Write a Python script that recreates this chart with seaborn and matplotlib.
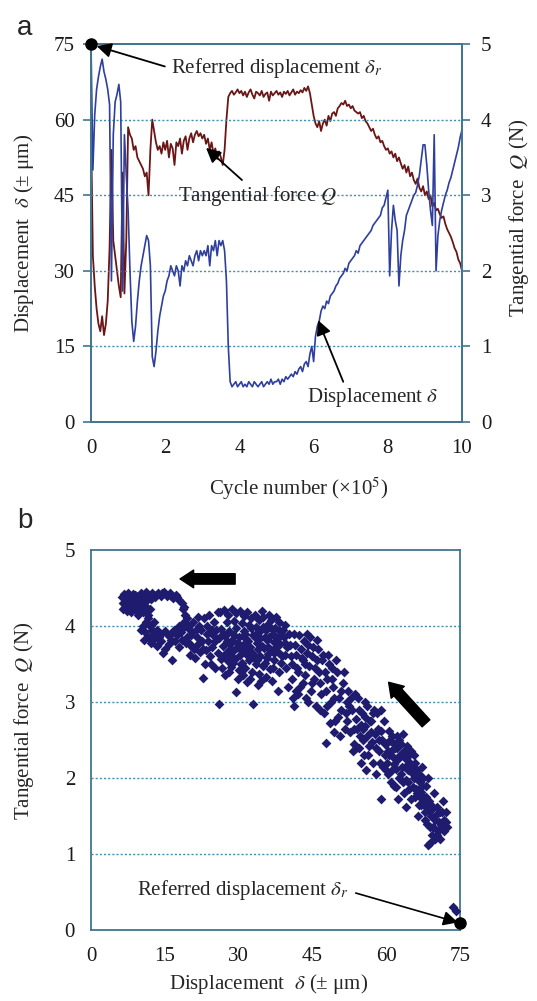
import numpy as np
import pandas as pd
import matplotlib.pyplot as plt
import seaborn as sns

# ---- panel a : time series, sampled every 0.05 x 10^5 cycles ----
cycle = np.round(np.arange(0, 10.001, 0.05), 2)

displacement = [
    75, 50, 61, 66, 68.5, 70.5, 72, 69.5, 68, 66, 63, 28, 57, 63.5, 65, 67, 63.5, 26, 57, 49,
    42, 30, 20, 16, 19, 24, 28, 31, 33, 35, 37, 36, 31, 13, 11, 14, 18, 21, 23, 25,
    26, 28, 29, 31, 30, 29, 31, 30, 27, 31, 30, 32, 31, 33, 32, 31, 33, 34, 32, 34,
    33, 34, 33, 35, 31, 35, 34, 36, 33, 36, 35, 36, 34, 28, 15, 8, 7, 7.5, 8, 7,
    7.5, 8, 7, 7.5, 7, 8, 7.5, 7, 8, 7.5, 7, 7.5, 8, 7, 7.5, 8, 7.5, 8.5, 7.5, 8,
    8, 8.5, 7.5, 8.5, 8, 9, 8.5, 9, 9.5, 9, 10, 9.5, 10.5, 11, 10, 11.5, 12, 11, 13.5, 15,
    12, 17, 19, 20, 22, 23, 22.5, 24, 23.5, 25, 25.5, 26, 27, 27.5, 28.5, 29, 29.5, 30.5, 30, 31.5,
    32, 32.5, 33, 34, 33.5, 35, 35.5, 36, 36.5, 37, 37.5, 38, 39, 39.5, 40, 40.5, 41, 42.5, 43, 44.5,
    46, 29, 38, 43, 40, 38, 27, 33, 36, 38, 41, 42, 43, 44, 45, 45.5, 47, 49, 52, 55,
    55, 51, 46, 42, 39, 57, 30, 37, 40, 42, 43.5, 45, 46, 47.5, 48.5, 50, 51.5, 53, 54.5, 56.5,
    58]

tangential_force = [
    3.9, 2.2, 1.8, 1.5, 1.3, 1.2, 1.4, 1.15, 1.3, 1.6, 2.3, 3.6, 2.4, 2.2, 2.0, 1.8, 1.65, 3.3, 1.7, 2.4,
    3.9, 3.8, 3.75, 3.6, 3.65, 3.5, 3.45, 3.4, 3.35, 3.25, 3.3, 3.0, 3.6, 4.0, 3.85, 3.7, 3.6, 3.65, 3.55, 3.7,
    3.6, 3.72, 3.5, 3.68, 3.62, 3.4, 3.7, 3.65, 3.75, 3.55, 3.72, 3.78, 3.6, 3.75, 3.82, 3.7, 3.8, 3.85, 3.78, 3.82,
    3.75, 3.8, 3.68, 3.75, 3.6, 3.7, 3.55, 3.62, 3.48, 3.58, 3.5, 3.4, 3.6, 4.0, 4.3, 4.35, 4.38, 4.33, 4.36, 4.4,
    4.35, 4.38, 4.32, 4.37, 4.3, 4.36, 4.4, 4.33, 4.28, 4.37, 4.35, 4.32, 4.38, 4.3, 4.34, 4.36, 4.25, 4.37, 4.32, 4.35,
    4.38, 4.33, 4.36, 4.3, 4.37, 4.34, 4.38, 4.32, 4.36, 4.4, 4.33, 4.37, 4.35, 4.39, 4.36, 4.42, 4.38, 4.44, 4.35, 4.2,
    4.05, 3.95, 3.9, 3.98, 3.85, 3.95, 4.0, 3.92, 4.05, 3.98, 4.08, 4.1, 4.05, 4.15, 4.18, 4.22, 4.2, 4.25, 4.18, 4.2,
    4.15, 4.18, 4.12, 4.1, 4.08, 4.1, 4.02, 4.05, 3.98, 3.95, 3.9, 3.85, 3.88, 3.8, 3.75, 3.78, 3.7, 3.72, 3.65, 3.6,
    3.62, 3.55, 3.58, 3.5, 3.55, 3.45, 3.5, 3.42, 3.35, 3.4, 3.3, 3.38, 3.25, 3.3, 3.2, 3.15, 3.22, 3.1, 3.05, 3.12,
    3.0, 3.05, 2.95, 3.0, 2.85, 2.9, 2.8, 2.82, 2.75, 2.7, 2.72, 2.62, 2.55, 2.5, 2.45, 2.38, 2.3, 2.25, 2.15, 2.1,
    2.0]

# ---- panel b : (delta, Q) point clouds ----
cloud_top_left = [
    (6.3, 4.38), (6.5, 4.30), (6.8, 4.42), (7.0, 4.25), (7.2, 4.35), (7.4, 4.20), (7.6, 4.44), (7.8, 4.30),
    (8.0, 4.38), (8.2, 4.18), (8.4, 4.27), (8.6, 4.42), (8.8, 4.33), (9.0, 4.22), (9.2, 4.40), (9.4, 4.29),
    (9.6, 4.15), (9.8, 4.36), (10.0, 4.25), (10.2, 4.43), (10.4, 4.31), (10.6, 4.19), (10.8, 4.38), (11.0, 4.27),
    (11.2, 4.45), (11.4, 4.34), (6.6, 4.22), (7.1, 4.33), (7.7, 4.26), (8.3, 4.35), (8.9, 4.41), (9.5, 4.37),
    (10.1, 4.33), (10.7, 4.28), (11.3, 4.21), (7.3, 4.40), (8.1, 4.22), (9.1, 4.30), (9.9, 4.19), (8.7, 4.24),
    (6.9, 4.35), (7.5, 4.30), (8.5, 4.32), (9.3, 4.25), (10.3, 4.38), (10.9, 4.22)]

cloud_loop = [
    (11.8, 4.40), (12.4, 4.43), (13.0, 4.38), (13.6, 4.44), (14.2, 4.40), (14.8, 4.45), (15.4, 4.39),
    (16.0, 4.43), (16.6, 4.37), (17.2, 4.41), (17.8, 4.34), (18.4, 4.30), (19.0, 4.25),
    (19.2, 4.15), (19.0, 4.05), (18.8, 3.97), (19.6, 4.10), (20.0, 4.00),
    (18.2, 3.92), (17.4, 3.88), (16.6, 3.92), (15.8, 3.87), (15.0, 3.93), (14.2, 3.89), (13.4, 3.95), (12.6, 3.90),
    (11.6, 4.10), (11.9, 4.00), (12.0, 4.22), (11.5, 4.15),
    (10.5, 4.00), (11.0, 3.92), (10.8, 3.82), (11.5, 3.86), (12.2, 3.78), (12.8, 3.83), (13.5, 3.74),
    (14.2, 3.80), (15.0, 3.70), (10.2, 3.95), (16.4, 3.55), (15.8, 3.76), (17.0, 3.80), (17.8, 3.72),
    (12.2, 4.35), (13.3, 4.41), (14.5, 4.43), (16.3, 4.40), (17.5, 4.38), (18.6, 4.22), (17.9, 4.00),
    (16.9, 3.95), (13.9, 3.86), (12.9, 4.05), (12.3, 3.95), (11.2, 4.05), (18.4, 3.82), (16.2, 3.82),
    (14.6, 3.65)]

cloud_mid_left = [
    (19.5, 3.85), (20.0, 3.78), (20.5, 3.92), (21.0, 3.70), (21.5, 3.85), (22.0, 4.00), (22.5, 3.80),
    (23.0, 4.10), (23.5, 3.90), (24.0, 4.15), (24.5, 3.72), (25.0, 4.05), (25.5, 3.95), (20.2, 3.62),
    (21.2, 3.58), (22.2, 3.66), (23.2, 3.50), (24.2, 3.60), (25.2, 3.45), (22.8, 3.32), (20.8, 4.05),
    (21.8, 4.12), (23.8, 3.80), (24.8, 3.88), (25.8, 4.18), (19.8, 3.98), (22.4, 3.95), (23.4, 3.68),
    (20.3, 3.88), (21.3, 3.95), (22.7, 3.70), (23.6, 4.00), (24.6, 3.95), (21.6, 3.75), (24.3, 3.50),
    (20.6, 3.72), (19.3, 3.78)]

cloud_core = [
    (26.2, 4.18), (27.0, 4.21), (27.8, 4.15), (28.6, 4.22), (29.4, 4.17), (30.2, 4.20), (31.0, 4.13),
    (31.8, 4.19), (32.6, 4.10), (33.4, 4.15), (34.2, 4.08), (35.0, 4.12), (35.8, 4.02), (36.6, 4.08),
    (37.4, 3.98), (38.2, 4.05), (39.0, 3.95),
    (26.5, 3.96), (28.0, 3.93), (29.5, 3.98), (31.0, 3.94), (32.5, 3.97), (34.0, 3.92), (35.5, 3.95),
    (37.0, 3.90), (38.5, 3.88),
    (26.0, 3.84), (27.3, 3.87), (28.7, 3.82), (30.1, 3.86), (31.5, 3.83), (32.9, 3.88), (34.3, 3.84),
    (35.7, 3.81), (37.1, 3.79), (38.5, 3.76), (39.8, 3.72),
    (26.8, 3.74), (28.2, 3.77), (29.6, 3.72), (31.0, 3.76), (32.4, 3.73), (33.8, 3.78), (35.2, 3.71),
    (36.6, 3.69), (38.0, 3.66), (39.4, 3.62),
    (27.4, 3.64), (28.8, 3.67), (30.2, 3.62), (31.6, 3.66), (33.0, 3.63), (34.4, 3.61), (35.8, 3.58),
    (37.2, 3.55), (38.6, 3.52),
    (26.4, 3.56), (27.9, 3.54), (29.3, 3.57), (30.7, 3.52), (32.1, 3.55), (33.5, 3.50), (34.9, 3.47), (36.3, 3.44),
    (28.5, 3.46), (30.0, 3.42), (31.4, 3.45), (32.8, 3.40), (34.2, 3.37), (35.6, 3.33),
    (27.2, 3.36), (29.8, 3.30), (31.7, 3.26), (33.9, 3.22), (36.8, 3.28), (29.5, 3.13), (26.0, 2.97),
    (32.9, 2.97), (38.0, 3.15),
    (27.6, 4.05), (29.0, 4.07), (30.6, 4.04), (32.2, 4.02), (33.6, 3.99), (35.0, 3.99), (36.2, 3.86),
    (28.4, 3.60), (31.2, 3.69), (33.2, 3.58), (34.8, 3.74), (36.0, 3.63), (37.8, 3.83), (39.2, 3.85),
    (26.9, 3.90), (27.7, 3.80), (28.3, 3.70), (29.1, 3.88), (29.9, 3.78), (30.5, 3.68), (31.3, 3.90),
    (32.0, 3.80), (32.7, 3.65), (33.3, 3.85), (34.0, 3.70), (34.6, 3.95), (35.3, 3.85), (35.9, 3.72),
    (36.5, 3.97), (37.1, 3.65), (37.7, 3.72), (38.3, 3.95), (38.9, 3.60), (39.5, 3.78), (27.1, 3.60),
    (28.9, 3.52), (30.4, 3.50), (31.9, 3.60), (33.7, 3.55), (35.3, 3.52), (36.9, 3.45), (38.2, 3.40),
    (39.6, 3.45), (30.9, 3.35), (32.4, 3.30), (34.5, 3.28), (28.0, 3.40), (26.6, 3.45), (25.9, 3.65),
    (25.3, 3.80), (37.6, 4.12), (39.5, 4.02), (36.1, 4.15), (34.8, 4.20)]

cloud_mid_right = [
    (40.2, 3.90), (40.6, 3.60), (40.8, 3.30), (41.0, 3.05), (41.4, 3.75), (41.8, 3.45), (42.2, 3.88),
    (42.4, 3.20), (42.8, 3.58), (43.2, 3.80), (43.4, 3.35), (43.8, 3.05), (44.0, 3.65), (44.4, 3.48),
    (44.8, 3.15), (45.2, 3.72), (45.4, 3.30), (45.8, 2.95), (46.0, 3.55), (46.4, 3.40), (46.8, 3.10),
    (47.2, 3.62), (47.4, 2.85), (47.7, 2.46), (48.0, 3.30), (48.4, 3.50), (48.8, 3.00), (49.2, 3.20),
    (49.6, 2.75), (50.0, 3.40), (50.4, 3.05), (50.8, 2.90), (51.2, 3.25), (51.6, 2.65), (52.0, 3.00),
    (41.6, 3.15), (43.0, 3.55), (44.6, 3.85), (46.2, 3.70), (47.8, 3.15), (49.0, 3.45), (50.6, 2.55),
    (45.0, 3.25), (42.0, 3.40), (48.6, 2.72),
    (40.4, 3.75), (40.9, 3.50), (41.2, 3.90), (41.7, 3.62), (42.0, 3.10), (42.6, 3.70), (43.1, 3.25),
    (43.6, 3.50), (44.2, 3.75), (44.2, 3.00), (44.9, 3.60), (45.6, 3.45), (45.9, 3.82), (46.6, 3.25),
    (46.9, 3.55), (47.5, 3.40), (47.9, 2.95), (48.2, 3.62), (48.9, 3.30), (49.4, 3.05), (49.8, 3.55),
    (50.2, 2.80), (50.9, 3.15), (51.4, 3.40), (51.8, 2.85), (40.0, 3.20), (41.3, 2.95), (43.9, 3.90),
    (46.5, 2.90), (49.3, 2.60)]

cloud_lower = [
    (52.3, 3.15), (52.6, 2.60), (53.0, 2.90), (53.4, 2.45), (53.8, 2.78), (54.2, 3.05), (54.6, 2.55),
    (55.0, 2.85), (55.4, 2.30), (55.8, 2.68), (56.2, 2.95), (56.6, 2.42), (57.0, 2.75), (57.4, 2.20),
    (57.8, 2.58), (58.2, 2.85), (58.6, 2.35), (59.0, 1.73), (59.0, 2.62), (59.4, 2.15), (59.8, 2.45),
    (53.2, 2.35), (54.8, 2.20), (56.0, 2.10), (57.2, 2.48), (58.0, 2.05), (55.6, 3.00), (57.6, 2.90),
    (59.6, 2.75), (54.0, 2.65),
    (52.1, 2.75), (52.9, 3.05), (53.5, 2.65), (53.9, 2.40), (54.4, 2.90), (54.9, 2.70), (55.2, 2.50),
    (55.7, 2.80), (56.1, 2.55), (56.4, 2.30), (56.9, 2.60), (57.3, 2.85), (57.9, 2.40), (58.4, 2.65),
    (58.8, 2.20), (59.2, 2.50), (59.7, 2.30), (52.5, 2.95), (53.7, 3.10), (55.3, 2.65), (56.7, 2.75),
    (58.5, 2.50), (59.9, 2.10), (58.9, 2.90), (54.5, 2.40)]

cloud_tail = [
    (60.0, 2.45), (60.3, 2.05), (60.6, 2.30), (60.9, 1.95), (61.2, 2.55), (61.5, 2.18), (61.8, 2.40),
    (62.1, 1.88), (62.4, 2.25), (62.7, 2.50), (63.0, 2.05), (63.3, 2.32), (63.6, 1.80), (63.9, 2.15),
    (64.2, 2.42), (64.5, 1.95), (64.8, 2.20), (65.1, 1.72), (65.4, 2.05), (65.7, 2.30), (66.0, 1.85),
    (66.3, 2.10), (66.6, 1.65), (66.9, 1.95), (67.2, 2.15), (67.5, 1.75), (67.8, 1.55), (68.1, 1.90),
    (68.4, 1.40), (68.6, 1.12), (68.8, 1.70), (69.1, 1.50), (69.4, 1.25), (69.7, 1.80), (70.0, 1.45),
    (70.3, 1.62), (70.6, 1.30), (70.9, 1.55), (71.2, 1.38), (71.5, 1.70), (71.8, 1.45), (72.1, 1.55),
    (72.4, 1.35), (69.0, 1.15), (70.0, 1.20), (61.0, 2.35), (62.0, 2.12), (63.0, 2.45), (64.0, 1.98),
    (65.0, 2.35), (66.0, 2.00), (67.0, 1.82), (68.0, 1.62), (62.5, 1.72), (64.0, 1.62), (60.5, 2.62),
    (61.5, 1.90), (63.5, 2.58), (65.5, 1.88), (67.5, 2.00), (69.5, 1.60), (71.0, 1.20), (66.5, 1.50),
    (68.5, 2.00),
    (60.2, 2.20), (60.8, 2.50), (61.1, 2.10), (61.6, 2.45), (61.9, 2.25), (62.3, 2.40), (62.6, 2.00),
    (62.9, 2.30), (63.2, 2.15), (63.7, 2.35), (64.1, 2.25), (64.4, 2.10), (64.7, 1.85), (65.2, 2.15),
    (65.6, 2.00), (65.9, 2.20), (66.2, 1.80), (66.7, 2.05), (67.0, 1.65), (67.3, 1.90), (67.7, 1.68),
    (68.2, 1.75), (68.7, 1.55), (69.2, 1.65), (69.6, 1.35), (70.2, 1.52), (70.7, 1.42), (71.3, 1.55),
    (71.7, 1.30), (72.2, 1.42), (60.4, 2.35), (61.3, 2.28), (62.2, 2.55), (63.4, 1.95), (64.6, 2.30),
    (65.8, 1.75), (66.8, 1.75), (67.9, 1.45), (69.0, 1.35), (70.4, 1.25),
    (73.6, 0.30), (74.2, 0.25)]

referred_disp = 75
referred_force = 0.09

# ---- style ----
sns.set_style("white")
plt.rcParams['font.family'] = ['Liberation Serif', 'DejaVu Serif']
plt.rcParams['mathtext.fontset'] = 'stix'
plt.rcParams['font.size'] = 15

red = '#6b1616'
blue = '#2e3f9e'
navy = '#1f1b6e'
spine_c = '#41768f'
grid_c = '#3f8fb0'


def style_axes(ax):
    for s in ax.spines.values():
        s.set_color(spine_c)
        s.set_linewidth(1.3)
    ax.tick_params(direction='out', length=5.5, width=1.2, color=spine_c,
                   labelsize=15, labelcolor='#1a1a1a', pad=6)


fig = plt.figure(figsize=(5.37, 10.01), dpi=100)

# ================= panel a =================
ax1 = fig.add_axes([0.1695, 0.5784, 0.6909, 0.3776])
ax2 = ax1.twinx()
ax1.set_zorder(ax2.get_zorder() + 1)
ax1.patch.set_visible(False)

df_a = pd.DataFrame({'cycle': cycle, 'disp': displacement, 'force': tangential_force})
sns.lineplot(data=df_a, x='cycle', y='force', ax=ax2, color=red, lw=1.3, estimator=None)
sns.lineplot(data=df_a, x='cycle', y='disp', ax=ax1, color=blue, lw=1.2, estimator=None)

ax1.set_xlim(0, 10)
ax1.set_ylim(0, 75)
ax2.set_ylim(0, 5)
ax1.set_xticks(range(0, 11, 2))
ax1.set_yticks(range(0, 76, 15))
ax2.set_yticks(range(0, 6))
for v in [15, 30, 45, 60]:
    ax1.axhline(v, color=grid_c, ls=(0, (1.5, 1.5)), lw=1.0, zorder=0)

style_axes(ax1)
style_axes(ax2)
ax2.tick_params(pad=8)
ax1.tick_params(axis='x', pad=7)

ax1.set_xlabel(r"Cycle number (×10$^5$)", fontsize=15)
ax1.xaxis.set_label_coords(0.56, -0.14)
ax1.set_ylabel(r"Displacement  $\delta$ (± μm)", fontsize=15)
ax1.yaxis.set_label_coords(-0.148, 0.5)
ax2.set_ylabel(r"Tangential force  $Q$ (N)", fontsize=15, rotation=90)
ax2.yaxis.set_label_coords(1.12, 0.54)

ax1.plot(0, 75, 'o', color='k', ms=8, clip_on=False, zorder=10)
ax1.annotate(r"Referred displacement $\delta_r$", xy=(0.15, 74.6), xytext=(2.15, 70.2),
             ha='left', va='center', fontsize=15,
             arrowprops=dict(arrowstyle='-|>', color='k', lw=1.3, mutation_scale=22,
                             shrinkA=2, shrinkB=0, relpos=(0, 0.5)))
ax1.annotate(r"Tangential force $Q$", xy=(3.1, 54.4), xytext=(2.35, 44.8),
             ha='left', va='center', fontsize=15,
             arrowprops=dict(arrowstyle='-|>', color='k', lw=1.3, mutation_scale=22,
                             shrinkA=1, shrinkB=0, relpos=(0.43, 1)))
ax1.annotate(r"Displacement $\delta$", xy=(6.12, 20.2), xytext=(5.82, 4.8),
             ha='left', va='center', fontsize=15,
             arrowprops=dict(arrowstyle='-|>', color='k', lw=1.3, mutation_scale=22,
                             shrinkA=1, shrinkB=0, relpos=(0.29, 1)))

# ================= panel b =================
axb = fig.add_axes([0.1695, 0.0709, 0.687, 0.3796])
clouds = cloud_top_left + cloud_loop + cloud_mid_left + cloud_core + cloud_mid_right + cloud_lower + cloud_tail
df_b = pd.DataFrame(clouds, columns=['disp', 'force'])
sns.scatterplot(data=df_b, x='disp', y='force', ax=axb, marker='D', s=25,
                color=navy, linewidth=0, zorder=3)

axb.set_xlim(0, 75)
axb.set_ylim(0, 5)
axb.set_xticks(range(0, 76, 15))
axb.set_yticks(range(0, 6))
for v in [1, 2, 3, 4]:
    axb.axhline(v, color=grid_c, ls=(0, (1.5, 1.5)), lw=1.0, zorder=0)
style_axes(axb)
axb.tick_params(axis='x', pad=7)

axb.set_xlabel(r"Displacement  $\delta$ (± μm)", fontsize=15)
axb.xaxis.set_label_coords(0.48, -0.11)
axb.set_ylabel(r"Tangential force  $Q$ (N)", fontsize=15)
axb.yaxis.set_label_coords(-0.149, 0.55)

axb.plot(referred_disp, referred_force, 'o', color='k', ms=8, clip_on=False, zorder=10)
axb.annotate(r"Referred displacement $\delta_r$", xy=(74.6, 0.1), xytext=(9.4, 0.53),
             ha='left', va='center', fontsize=15,
             arrowprops=dict(arrowstyle='-|>', color='k', lw=1.2, mutation_scale=22,
                             shrinkA=3, shrinkB=0, relpos=(1, 0.45)))
block = 'simple,head_length=0.65,head_width=0.85,tail_width=0.5'
axb.annotate("", xy=(18.1, 4.62), xytext=(29.3, 4.62),
             arrowprops=dict(arrowstyle=block, color='k', mutation_scale=15, shrinkA=0, shrinkB=0))
axb.annotate("", xy=(60.5, 3.26), xytext=(68.1, 2.72),
             arrowprops=dict(arrowstyle=block, color='k', mutation_scale=15, shrinkA=0, shrinkB=0))

fig.text(0.032, 0.985, 'a', fontsize=20, family='Liberation Sans', va='top')
fig.text(0.032, 0.493, 'b', fontsize=20, family='Liberation Sans', va='top')

fig.savefig('out.png', dpi=100, facecolor='white')
